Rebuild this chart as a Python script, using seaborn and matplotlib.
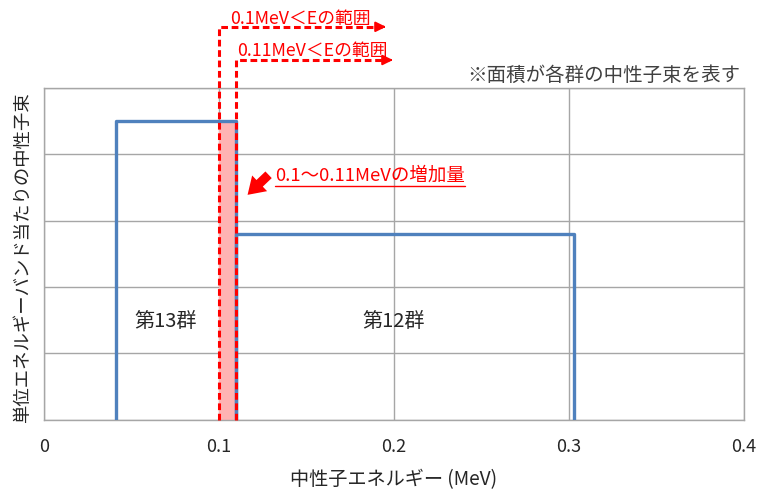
import matplotlib
matplotlib.use("Agg")
import matplotlib.pyplot as plt
import seaborn as sns
import pandas as pd
import numpy as np

# group boundaries (MeV) and flux per unit energy
group_names = ["第13群", "第12群"]
group_lo = [0.041, 0.11]
group_hi = [0.11, 0.303]
group_flux = [4.5, 2.8]

# threshold energies
cut_lo = 0.1
cut_hi = 0.11

xticks = [0, 0.1, 0.2, 0.3, 0.4]
xtick_labels = ["0", "0.1", "0.2", "0.3", "0.4"]

sns.set_theme(style="white")
plt.rcParams['font.family'] = ['Noto Sans CJK JP', 'DejaVu Sans']

blue = "#4f81bd"
red = "#ff0000"
pink = "#ffb3b3"
grid = "#a6a6a6"
txt = "#262626"

fig, ax = plt.subplots(figsize=(7.59, 4.91), dpi=100)
fig.subplots_adjust(left=0.058, right=0.980, top=0.821, bottom=0.145)

# group outlines
rows = []
for name, lo, hi, f in zip(group_names, group_lo, group_hi, group_flux):
    for i, (x, y) in enumerate([(lo, 0), (lo, f), (hi, f), (hi, 0)]):
        rows.append({"group": name, "order": i, "E": x, "flux": y})
df = pd.DataFrame(rows)
sns.lineplot(data=df, x="E", y="flux", units="group", estimator=None, sort=False,
             color=blue, lw=2.4, ax=ax, zorder=3)

# increase between 0.1 and 0.11 MeV
ax.fill_between([cut_lo, cut_hi], 0, group_flux[0], color=pink, lw=0, zorder=2)

ax.set_xlim(0, 0.4)
ax.set_ylim(0, 5)

# dashed threshold lines going above the axes
top_lo, top_hi = 5.92, 5.42
end_lo, end_hi = 0.193, 0.197
ax.plot([cut_lo, cut_lo, end_lo], [0, top_lo, top_lo], color=red, lw=2.2,
        ls=(0, (2.2, 1.2)), clip_on=False, zorder=4)
ax.plot([cut_hi, cut_hi, end_hi], [0, top_hi, top_hi], color=red, lw=2.2,
        ls=(0, (2.2, 1.2)), clip_on=False, zorder=4)
for e, t in [(end_lo, top_lo), (end_hi, top_hi)]:
    ax.annotate("", xy=(e + 0.004, t), xytext=(e - 0.001, t),
                arrowprops=dict(arrowstyle="-|>,head_length=0.5,head_width=0.25",
                                color=red, lw=1.5), annotation_clip=False)

ax.text(0.1062, 6.04, "0.1MeV＜Eの範囲", color=red, fontsize=12.8,
        ha="left", va="center", clip_on=False)
ax.text(0.1105, 5.56, "0.11MeV＜Eの範囲", color=red, fontsize=12.8,
        ha="left", va="center", clip_on=False)
ax.text(0.398, 5.19, "※面積が各群の中性子束を表す", color="#404040", fontsize=14,
        ha="right", va="center", clip_on=False)

# block arrow + underlined note
ax.annotate("", xy=(0.1152, 3.36), xytext=(0.1295, 3.72),
            arrowprops=dict(arrowstyle="simple,head_length=1.0,head_width=1.3,tail_width=0.55",
                            color=red, lw=0))
note = ax.text(0.132, 3.68, "0.1～0.11MeVの増加量", color=red, fontsize=13.3,
               ha="left", va="center")
fig.canvas.draw()
bb = note.get_window_extent().transformed(ax.transData.inverted())
ax.plot([bb.x0, bb.x1], [3.52, 3.52], color=red, lw=1)

for name, lo, hi in zip(group_names, group_lo, group_hi):
    xc = 0.0695 if lo < cut_lo else 0.2
    ax.text(xc, 1.48, name, color=txt, fontsize=14.5, ha="center", va="center")

ax.set_xticks(xticks)
ax.set_xticklabels(xtick_labels, fontsize=13, color=txt)
ax.set_yticks(range(6))
ax.set_yticklabels([])
ax.tick_params(axis="x", length=0, pad=13)
ax.tick_params(axis="y", length=0)
ax.grid(True, color=grid, lw=1)
for s in ax.spines.values():
    s.set_color(grid)
    s.set_linewidth(1)

ax.set_xlabel("中性子エネルギー (MeV)", fontsize=13.8, color=txt)
ax.xaxis.set_label_coords(0.5, -0.148)
ax.set_ylabel("単位エネルギーバンド当たりの中性子束", fontsize=13.2, color=txt)
ax.yaxis.set_label_coords(-0.017, 0.49)

fig.savefig("out.png", dpi=100)
